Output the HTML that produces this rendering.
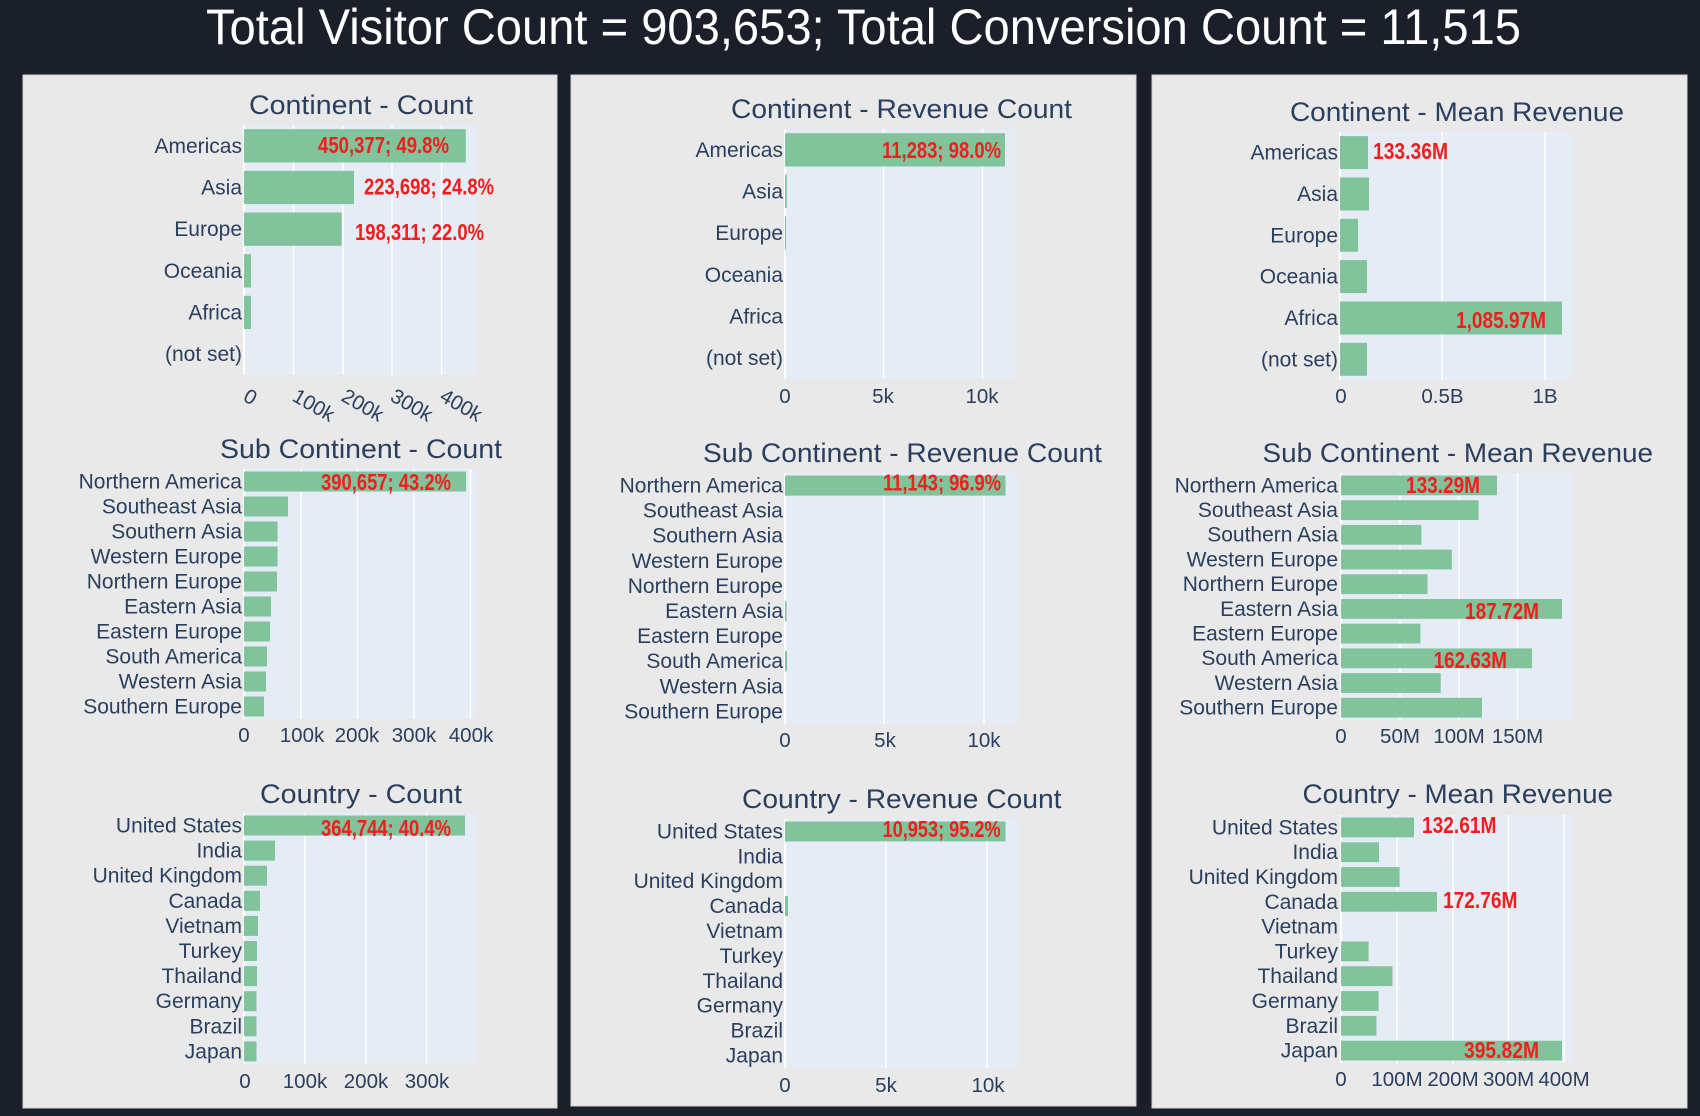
<!DOCTYPE html>
<html><head><meta charset="utf-8"><style>
html,body{margin:0;padding:0;background:#1b1f2a;}
svg{display:block;}
.cat{font-family:"Liberation Sans",sans-serif;font-size:21px;fill:#2a3f5f;text-anchor:end;}
.tk{font-family:"Liberation Sans",sans-serif;font-size:20.5px;fill:#2a3f5f;text-anchor:middle;}
.tkr{font-family:"Liberation Sans",sans-serif;font-size:20.5px;fill:#2a3f5f;}
.ttl{font-family:"Liberation Sans",sans-serif;font-size:27px;fill:#2a3f5f;}
.rl{font-family:"Liberation Sans Narrow","Liberation Sans",sans-serif;font-size:23px;font-weight:bold;fill:#f21d1d;}
.bar{fill:#81c49c;}
.pb{fill:#e5ecf6;}
.g{stroke:#ffffff;stroke-width:1.5;}
.z{stroke:#ffffff;stroke-width:2;}
</style></head><body>
<svg width="1700" height="1116" viewBox="0 0 1700 1116" xmlns="http://www.w3.org/2000/svg">
<rect x="0" y="0" width="1700" height="1116" fill="#1b1f2a"/>
<text x="206" y="44" font-family="Liberation Sans, sans-serif" font-size="50" fill="#ffffff" textLength="1315" lengthAdjust="spacingAndGlyphs">Total Visitor Count = 903,653; Total Conversion Count = 11,515</text>

<!-- Panels -->
<rect x="23" y="75" width="534" height="1033" fill="#e9e9e9" stroke="#d4d4d4" stroke-width="1"/>
<rect x="571" y="75" width="565" height="1031" fill="#e9e9e9" stroke="#d4d4d4" stroke-width="1"/>
<rect x="1152" y="75" width="535" height="1033" fill="#e9e9e9" stroke="#d4d4d4" stroke-width="1"/>

<!-- ============ PANEL 1 ============ -->
<!-- P1C1 -->
<text class="ttl" x="249" y="114" textLength="224" lengthAdjust="spacingAndGlyphs">Continent - Count</text>
<rect class="pb" x="243" y="125" width="234" height="250"/>
<line class="g" x1="293.5" y1="125" x2="293.5" y2="375"/>
<line class="g" x1="343" y1="125" x2="343" y2="375"/>
<line class="g" x1="392" y1="125" x2="392" y2="375"/>
<line class="g" x1="441.5" y1="125" x2="441.5" y2="375"/>
<line class="z" x1="244" y1="125" x2="244" y2="375"/>
<rect class="bar" x="244" y="129.2" width="221.8" height="33.3"/>
<rect class="bar" x="244" y="170.8" width="110" height="33.3"/>
<rect class="bar" x="244" y="212.5" width="97.7" height="33.3"/>
<rect class="bar" x="244" y="254.2" width="7" height="33.3"/>
<rect class="bar" x="244" y="295.8" width="7" height="33.3"/>
<text class="cat" x="242" y="152.8">Americas</text>
<text class="cat" x="242" y="194.5">Asia</text>
<text class="cat" x="242" y="236.2">Europe</text>
<text class="cat" x="242" y="277.8">Oceania</text>
<text class="cat" x="242" y="319.5">Africa</text>
<text class="cat" x="242" y="361.2">(not set)</text>
<text class="rl" x="318" y="153" textLength="131" lengthAdjust="spacingAndGlyphs">450,377; 49.8%</text>
<text class="rl" x="364" y="194.5" textLength="130" lengthAdjust="spacingAndGlyphs">223,698; 24.8%</text>
<text class="rl" x="355" y="240" textLength="129" lengthAdjust="spacingAndGlyphs">198,311; 22.0%</text>
<text class="tkr" x="242" y="400" transform="rotate(30 242 400)">0</text>
<text class="tkr" x="291" y="400" transform="rotate(30 291 400)">100k</text>
<text class="tkr" x="340" y="400" transform="rotate(30 340 400)">200k</text>
<text class="tkr" x="389" y="400" transform="rotate(30 389 400)">300k</text>
<text class="tkr" x="438.5" y="400" transform="rotate(30 438.5 400)">400k</text>

<!-- P1C2 -->
<text class="ttl" x="220" y="458" textLength="282" lengthAdjust="spacingAndGlyphs">Sub Continent - Count</text>
<rect class="pb" x="243" y="469" width="233" height="250"/>
<line class="g" x1="301" y1="469" x2="301" y2="719"/>
<line class="g" x1="357.5" y1="469" x2="357.5" y2="719"/>
<line class="g" x1="414" y1="469" x2="414" y2="719"/>
<line class="g" x1="470.5" y1="469" x2="470.5" y2="719"/>
<line class="z" x1="244" y1="469" x2="244" y2="719"/>
<rect class="bar" x="244" y="471.5" width="222" height="20"/>
<rect class="bar" x="244" y="496.5" width="44" height="20"/>
<rect class="bar" x="244" y="521.5" width="33.5" height="20"/>
<rect class="bar" x="244" y="546.5" width="33.5" height="20"/>
<rect class="bar" x="244" y="571.5" width="33" height="20"/>
<rect class="bar" x="244" y="596.5" width="27" height="20"/>
<rect class="bar" x="244" y="621.5" width="26" height="20"/>
<rect class="bar" x="244" y="646.5" width="23" height="20"/>
<rect class="bar" x="244" y="671.5" width="22" height="20"/>
<rect class="bar" x="244" y="696.5" width="20" height="20"/>
<text class="cat" x="242" y="488.5">Northern America</text>
<text class="cat" x="242" y="513.5">Southeast Asia</text>
<text class="cat" x="242" y="538.5">Southern Asia</text>
<text class="cat" x="242" y="563.5">Western Europe</text>
<text class="cat" x="242" y="588.5">Northern Europe</text>
<text class="cat" x="242" y="613.5">Eastern Asia</text>
<text class="cat" x="242" y="638.5">Eastern Europe</text>
<text class="cat" x="242" y="663.5">South America</text>
<text class="cat" x="242" y="688.5">Western Asia</text>
<text class="cat" x="242" y="713.5">Southern Europe</text>
<text class="rl" x="321" y="490" textLength="130" lengthAdjust="spacingAndGlyphs">390,657; 43.2%</text>
<text class="tk" x="244" y="742">0</text>
<text class="tk" x="302" y="742">100k</text>
<text class="tk" x="357" y="742">200k</text>
<text class="tk" x="414" y="742">300k</text>
<text class="tk" x="471" y="742">400k</text>

<!-- P1C3 -->
<text class="ttl" x="260" y="803" textLength="202" lengthAdjust="spacingAndGlyphs">Country - Count</text>
<rect class="pb" x="243" y="813" width="234" height="251"/>
<line class="g" x1="305" y1="813" x2="305" y2="1064"/>
<line class="g" x1="366" y1="813" x2="366" y2="1064"/>
<line class="g" x1="426.5" y1="813" x2="426.5" y2="1064"/>
<line class="z" x1="244" y1="813" x2="244" y2="1064"/>
<rect class="bar" x="244" y="815.5" width="221" height="20"/>
<rect class="bar" x="244" y="840.6" width="31" height="20"/>
<rect class="bar" x="244" y="865.7" width="23" height="20"/>
<rect class="bar" x="244" y="890.8" width="16" height="20"/>
<rect class="bar" x="244" y="915.9" width="14" height="20"/>
<rect class="bar" x="244" y="941" width="13" height="20"/>
<rect class="bar" x="244" y="966.1" width="13" height="20"/>
<rect class="bar" x="244" y="991.2" width="12.5" height="20"/>
<rect class="bar" x="244" y="1016.3" width="12.5" height="20"/>
<rect class="bar" x="244" y="1041.4" width="12.5" height="20"/>
<text class="cat" x="242" y="832.5">United States</text>
<text class="cat" x="242" y="857.6">India</text>
<text class="cat" x="242" y="882.7">United Kingdom</text>
<text class="cat" x="242" y="907.8">Canada</text>
<text class="cat" x="242" y="932.9">Vietnam</text>
<text class="cat" x="242" y="958">Turkey</text>
<text class="cat" x="242" y="983.1">Thailand</text>
<text class="cat" x="242" y="1008.2">Germany</text>
<text class="cat" x="242" y="1033.3">Brazil</text>
<text class="cat" x="242" y="1058.4">Japan</text>
<text class="rl" x="321" y="836" textLength="130" lengthAdjust="spacingAndGlyphs">364,744; 40.4%</text>
<text class="tk" x="245" y="1088">0</text>
<text class="tk" x="305" y="1088">100k</text>
<text class="tk" x="366" y="1088">200k</text>
<text class="tk" x="427" y="1088">300k</text>

<!-- ============ PANEL 2 ============ -->
<!-- P2C1 -->
<text class="ttl" x="731" y="118" textLength="341" lengthAdjust="spacingAndGlyphs">Continent - Revenue Count</text>
<rect class="pb" x="784" y="129" width="233" height="250"/>
<line class="g" x1="883.5" y1="129" x2="883.5" y2="379"/>
<line class="g" x1="982.5" y1="129" x2="982.5" y2="379"/>
<line class="z" x1="785" y1="129" x2="785" y2="379"/>
<rect class="bar" x="785" y="133.2" width="220" height="33.3"/>
<rect class="bar" x="785" y="174.8" width="1.8" height="33.3"/>
<rect class="bar" x="785" y="216.5" width="1" height="33.3"/>
<text class="cat" x="783" y="156.8">Americas</text>
<text class="cat" x="783" y="198.5">Asia</text>
<text class="cat" x="783" y="240.2">Europe</text>
<text class="cat" x="783" y="281.8">Oceania</text>
<text class="cat" x="783" y="323.5">Africa</text>
<text class="cat" x="783" y="365.2">(not set)</text>
<text class="rl" x="882" y="158" textLength="119" lengthAdjust="spacingAndGlyphs">11,283; 98.0%</text>
<text class="tk" x="785" y="403">0</text>
<text class="tk" x="883" y="403">5k</text>
<text class="tk" x="982" y="403">10k</text>

<!-- P2C2 -->
<text class="ttl" x="703" y="462" textLength="399" lengthAdjust="spacingAndGlyphs">Sub Continent - Revenue Count</text>
<rect class="pb" x="784" y="473" width="234" height="251"/>
<line class="g" x1="884" y1="473" x2="884" y2="724"/>
<line class="g" x1="984" y1="473" x2="984" y2="724"/>
<line class="z" x1="785" y1="473" x2="785" y2="724"/>
<rect class="bar" x="785" y="475.5" width="220.5" height="20.1"/>
<rect class="bar" x="785" y="601" width="1.5" height="20.1"/>
<rect class="bar" x="785" y="651.2" width="2" height="20.1"/>
<text class="cat" x="783" y="492.5">Northern America</text>
<text class="cat" x="783" y="517.6">Southeast Asia</text>
<text class="cat" x="783" y="542.7">Southern Asia</text>
<text class="cat" x="783" y="567.8">Western Europe</text>
<text class="cat" x="783" y="592.9">Northern Europe</text>
<text class="cat" x="783" y="618">Eastern Asia</text>
<text class="cat" x="783" y="643.1">Eastern Europe</text>
<text class="cat" x="783" y="668.2">South America</text>
<text class="cat" x="783" y="693.3">Western Asia</text>
<text class="cat" x="783" y="718.4">Southern Europe</text>
<text class="rl" x="883" y="490.5" textLength="118" lengthAdjust="spacingAndGlyphs">11,143; 96.9%</text>
<text class="tk" x="785" y="747">0</text>
<text class="tk" x="885" y="747">5k</text>
<text class="tk" x="984" y="747">10k</text>

<!-- P2C3 -->
<text class="ttl" x="742" y="808" textLength="319.5" lengthAdjust="spacingAndGlyphs">Country - Revenue Count</text>
<rect class="pb" x="784" y="819" width="234" height="249"/>
<line class="g" x1="886" y1="819" x2="886" y2="1068"/>
<line class="g" x1="987" y1="819" x2="987" y2="1068"/>
<line class="z" x1="785" y1="819" x2="785" y2="1068"/>
<rect class="bar" x="785" y="821.5" width="220.5" height="19.9"/>
<rect class="bar" x="785" y="896.2" width="3" height="19.9"/>
<text class="cat" x="783" y="838.4">United States</text>
<text class="cat" x="783" y="863.3">India</text>
<text class="cat" x="783" y="888.2">United Kingdom</text>
<text class="cat" x="783" y="913.1">Canada</text>
<text class="cat" x="783" y="938">Vietnam</text>
<text class="cat" x="783" y="962.9">Turkey</text>
<text class="cat" x="783" y="987.8">Thailand</text>
<text class="cat" x="783" y="1012.7">Germany</text>
<text class="cat" x="783" y="1037.6">Brazil</text>
<text class="cat" x="783" y="1062.5">Japan</text>
<text class="rl" x="882.6" y="837" textLength="118" lengthAdjust="spacingAndGlyphs">10,953; 95.2%</text>
<text class="tk" x="785" y="1092">0</text>
<text class="tk" x="886" y="1092">5k</text>
<text class="tk" x="988" y="1092">10k</text>

<!-- ============ PANEL 3 ============ -->
<!-- P3C1 -->
<text class="ttl" x="1290" y="121" textLength="334" lengthAdjust="spacingAndGlyphs">Continent - Mean Revenue</text>
<rect class="pb" x="1340" y="132" width="234" height="248"/>
<line class="g" x1="1442" y1="132" x2="1442" y2="380"/>
<line class="g" x1="1545" y1="132" x2="1545" y2="380"/>
<line class="z" x1="1340" y1="132" x2="1340" y2="380"/>
<rect class="bar" x="1340" y="136.1" width="28" height="33"/>
<rect class="bar" x="1340" y="177.5" width="29" height="33"/>
<rect class="bar" x="1340" y="218.8" width="18" height="33"/>
<rect class="bar" x="1340" y="260.1" width="27" height="33"/>
<rect class="bar" x="1340" y="301.5" width="222" height="33"/>
<rect class="bar" x="1340" y="342.8" width="27" height="33"/>
<text class="cat" x="1338" y="159.7">Americas</text>
<text class="cat" x="1338" y="201">Asia</text>
<text class="cat" x="1338" y="242.3">Europe</text>
<text class="cat" x="1338" y="283.7">Oceania</text>
<text class="cat" x="1338" y="325">Africa</text>
<text class="cat" x="1338" y="366.3">(not set)</text>
<text class="rl" x="1373" y="159" textLength="75" lengthAdjust="spacingAndGlyphs">133.36M</text>
<text class="rl" x="1456" y="328" textLength="90" lengthAdjust="spacingAndGlyphs">1,085.97M</text>
<text class="tk" x="1341" y="403">0</text>
<text class="tk" x="1442.5" y="403">0.5B</text>
<text class="tk" x="1545" y="403">1B</text>

<!-- P3C2 -->
<text class="ttl" x="1262.5" y="462" textLength="390.5" lengthAdjust="spacingAndGlyphs">Sub Continent - Mean Revenue</text>
<rect class="pb" x="1341" y="473" width="232" height="247"/>
<line class="g" x1="1400" y1="473" x2="1400" y2="720"/>
<line class="g" x1="1459" y1="473" x2="1459" y2="720"/>
<line class="g" x1="1517.5" y1="473" x2="1517.5" y2="720"/>
<line class="z" x1="1341" y1="473" x2="1341" y2="720"/>
<rect class="bar" x="1341" y="475.5" width="156" height="19.8"/>
<rect class="bar" x="1341" y="500.2" width="137.6" height="19.8"/>
<rect class="bar" x="1341" y="524.9" width="80.4" height="19.8"/>
<rect class="bar" x="1341" y="549.6" width="110.8" height="19.8"/>
<rect class="bar" x="1341" y="574.3" width="86.5" height="19.8"/>
<rect class="bar" x="1341" y="599" width="221" height="19.8"/>
<rect class="bar" x="1341" y="623.7" width="79.4" height="19.8"/>
<rect class="bar" x="1341" y="648.4" width="191" height="19.8"/>
<rect class="bar" x="1341" y="673.1" width="99.7" height="19.8"/>
<rect class="bar" x="1341" y="697.8" width="141" height="19.8"/>
<text class="cat" x="1338" y="492.3">Northern America</text>
<text class="cat" x="1338" y="517">Southeast Asia</text>
<text class="cat" x="1338" y="541.7">Southern Asia</text>
<text class="cat" x="1338" y="566.4">Western Europe</text>
<text class="cat" x="1338" y="591.1">Northern Europe</text>
<text class="cat" x="1338" y="615.8">Eastern Asia</text>
<text class="cat" x="1338" y="640.5">Eastern Europe</text>
<text class="cat" x="1338" y="665.2">South America</text>
<text class="cat" x="1338" y="689.9">Western Asia</text>
<text class="cat" x="1338" y="714.6">Southern Europe</text>
<text class="rl" x="1406" y="493" textLength="74" lengthAdjust="spacingAndGlyphs">133.29M</text>
<text class="rl" x="1465" y="619" textLength="74" lengthAdjust="spacingAndGlyphs">187.72M</text>
<text class="rl" x="1433.6" y="668" textLength="73.4" lengthAdjust="spacingAndGlyphs">162.63M</text>
<text class="tk" x="1341" y="743">0</text>
<text class="tk" x="1400" y="743">50M</text>
<text class="tk" x="1459" y="743">100M</text>
<text class="tk" x="1517.5" y="743">150M</text>

<!-- P3C3 -->
<text class="ttl" x="1302.5" y="803" textLength="310.5" lengthAdjust="spacingAndGlyphs">Country - Mean Revenue</text>
<rect class="pb" x="1341" y="815" width="232" height="248"/>
<line class="g" x1="1397" y1="815" x2="1397" y2="1063"/>
<line class="g" x1="1453" y1="815" x2="1453" y2="1063"/>
<line class="g" x1="1508.5" y1="815" x2="1508.5" y2="1063"/>
<line class="g" x1="1564" y1="815" x2="1564" y2="1063"/>
<line class="z" x1="1341" y1="815" x2="1341" y2="1063"/>
<rect class="bar" x="1341" y="817.5" width="73" height="19.8"/>
<rect class="bar" x="1341" y="842.3" width="38" height="19.8"/>
<rect class="bar" x="1341" y="867.1" width="58.6" height="19.8"/>
<rect class="bar" x="1341" y="891.9" width="96" height="19.8"/>
<rect class="bar" x="1341" y="941.5" width="27.6" height="19.8"/>
<rect class="bar" x="1341" y="966.3" width="51.5" height="19.8"/>
<rect class="bar" x="1341" y="991.1" width="37.6" height="19.8"/>
<rect class="bar" x="1341" y="1015.9" width="35.4" height="19.8"/>
<rect class="bar" x="1341" y="1040.7" width="221" height="19.8"/>
<text class="cat" x="1338" y="834.4">United States</text>
<text class="cat" x="1338" y="859.2">India</text>
<text class="cat" x="1338" y="884">United Kingdom</text>
<text class="cat" x="1338" y="908.8">Canada</text>
<text class="cat" x="1338" y="933.6">Vietnam</text>
<text class="cat" x="1338" y="958.4">Turkey</text>
<text class="cat" x="1338" y="983.2">Thailand</text>
<text class="cat" x="1338" y="1008">Germany</text>
<text class="cat" x="1338" y="1032.8">Brazil</text>
<text class="cat" x="1338" y="1057.6">Japan</text>
<text class="rl" x="1422" y="833" textLength="74.4" lengthAdjust="spacingAndGlyphs">132.61M</text>
<text class="rl" x="1443" y="908" textLength="74.5" lengthAdjust="spacingAndGlyphs">172.76M</text>
<text class="rl" x="1464" y="1058" textLength="75" lengthAdjust="spacingAndGlyphs">395.82M</text>
<text class="tk" x="1341" y="1086">0</text>
<text class="tk" x="1397" y="1086">100M</text>
<text class="tk" x="1453" y="1086">200M</text>
<text class="tk" x="1508.6" y="1086">300M</text>
<text class="tk" x="1564" y="1086">400M</text>
</svg>
</body></html>
